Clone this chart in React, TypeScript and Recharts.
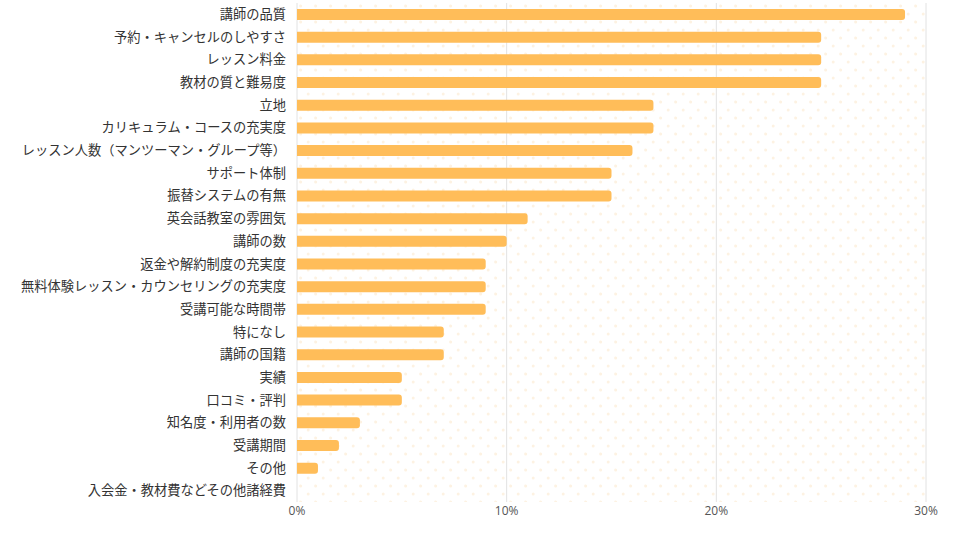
import React from "react";
import { BarChart, Bar, XAxis, YAxis, CartesianGrid } from "recharts";

const categories = [
  "講師の品質",
  "予約・キャンセルのしやすさ",
  "レッスン料金",
  "教材の質と難易度",
  "立地",
  "カリキュラム・コースの充実度",
  "レッスン人数（マンツーマン・グループ等）",
  "サポート体制",
  "振替システムの有無",
  "英会話教室の雰囲気",
  "講師の数",
  "返金や解約制度の充実度",
  "無料体験レッスン・カウンセリングの充実度",
  "受講可能な時間帯",
  "特になし",
  "講師の国籍",
  "実績",
  "口コミ・評判",
  "知名度・利用者の数",
  "受講期間",
  "その他",
  "入会金・教材費などその他諸経費",
];

const shares = [29, 25, 25, 25, 17, 17, 16, 15, 15, 11, 10, 9, 9, 9, 7, 7, 5, 5, 3, 2, 1, 0];

const xTicks = [0, 10, 20, 30];

const data = categories.map((name, i) => ({ name, value: shares[i] }));

const App: React.FC = () => {
  return (
    <div style={{ position: "absolute", left: 0, top: 0, width: 960, height: 540, background: "#fff" }}>
      <BarChart
        width={960}
        height={540}
        data={data}
        layout="vertical"
        margin={{ top: 3, right: 34, left: 0, bottom: 8 }}
        barCategoryGap={0}
      >
        <defs>
          <pattern id="dots" patternUnits="userSpaceOnUse" width={15} height={16}>
            <circle cx={0.7} cy={6} r={1.5} fill="#fdf2e2" />
            <circle cx={15.7} cy={6} r={1.5} fill="#fdf2e2" />
            <circle cx={8.2} cy={14} r={1.5} fill="#fdf2e2" />
          </pattern>
        </defs>
        <CartesianGrid
          horizontal={false}
          stroke="#e2e2e2"
          fill="url(#dots)"
          fillOpacity={1}
        />
        <XAxis
          type="number"
          domain={[0, 30]}
          ticks={xTicks}
          tickFormatter={(v: number) => `${v}%`}
          axisLine={false}
          tickLine={false}
          tickSize={0}
          tickMargin={4}
          tick={{ fontSize: 12, fill: "#555", fontFamily: "Open Sans" }}
        />
        <YAxis
          type="category"
          dataKey="name"
          width={297}
          axisLine={false}
          tickLine={false}
          tickMargin={5}
          interval={0}
          tick={{ fontSize: 13.25, fill: "#333", fontFamily: "Noto Sans CJK JP" }}
        />
        <Bar
          dataKey="value"
          fill="#ffbd59"
          barSize={11}
          radius={[0, 3, 3, 0]}
          isAnimationActive={false}
        />
      </BarChart>
    </div>
  );
};

export default App;
